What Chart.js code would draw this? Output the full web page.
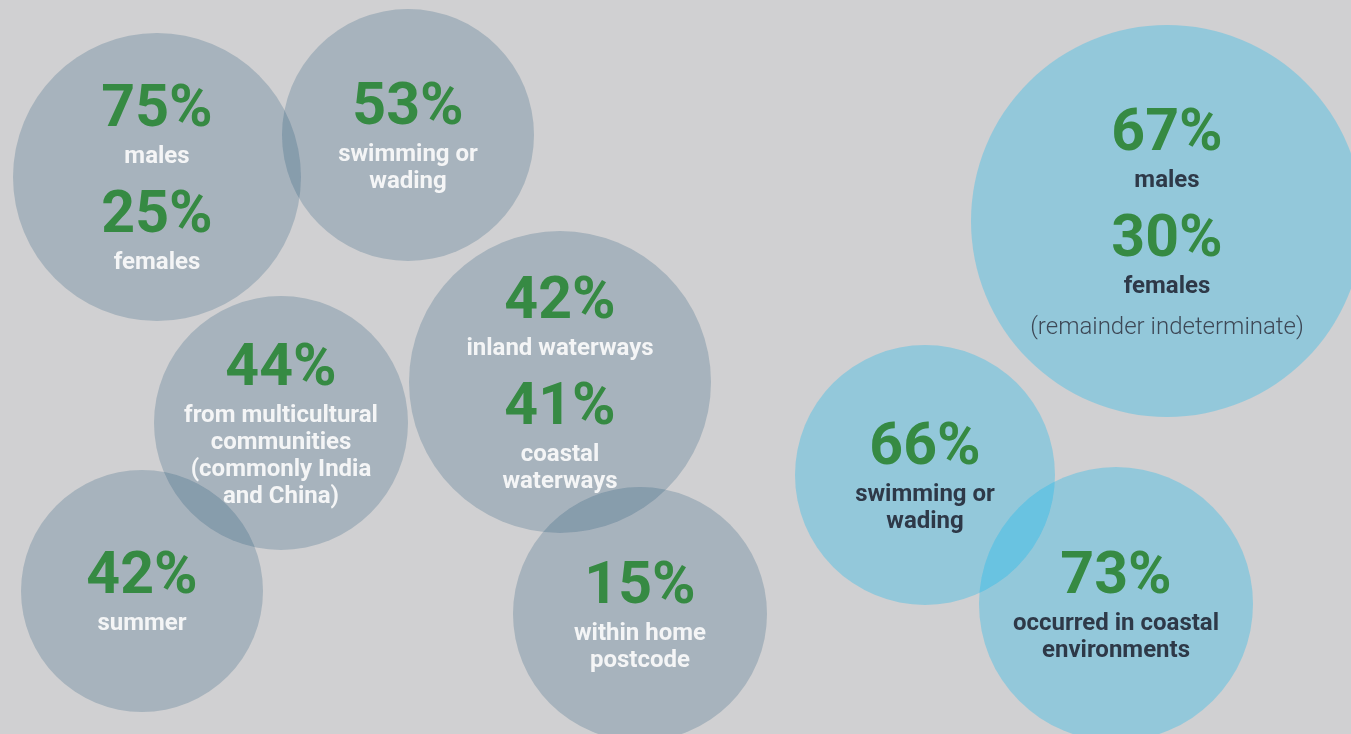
<!DOCTYPE html>
<html>
<head>
<meta charset="utf-8">
<script src="https://cdn.jsdelivr.net/npm/chart.js@4.4.1/dist/chart.umd.min.js"></script>
<style>
  html, body { margin: 0; padding: 0; background: #d0d0d2; overflow: hidden; }
  canvas { display: block; }
</style>
</head>
<body>
<canvas id="chart" width="1351" height="734"></canvas>
<script>
// Bubble centres (hidden-axis units) and radii (px)
const bubbleX = [157, 408, 281, 560, 142, 640, 1167, 925, 1116];
const bubbleY = [177, 135, 423, 382, 591, 614, 221, 475, 604];
const bubbleR = [144, 126, 127, 151, 121, 127, 196, 130, 137];
// 0 = grey cluster, 1 = blue cluster
const bubbleGroup = [0, 0, 0, 0, 0, 0, 1, 1, 1];

// Headline percentages per bubble and the caption under each one
const figures = [[75, 25], [53], [44], [42, 41], [42], [15], [67, 30], [66], [73]];
const captions = [
  [['males'], ['females']],
  [['swimming or', 'wading']],
  [['from multicultural', 'communities', '(commonly India', 'and China)']],
  [['inland waterways'], ['coastal', 'waterways']],
  [['summer']],
  [['within home', 'postcode']],
  [['males'], ['females']],
  [['swimming or', 'wading']],
  [['occurred in coastal', 'environments']]
];
const notes = ['', '', '', '', '', '', '(remainder indeterminate)', '', ''];

const groupFill = ['rgba(3, 63, 105, 0.2)', 'rgba(5, 181, 240, 0.3)'];
const groupCaptionColor = ['#f4f5f6', '#2e3948'];
const FIGURE_COLOR = '#368a43';
const NOTE_COLOR = '#3d4856';

const FIG_FONT = 'bold 59px Roboto';
const CAP_FONT = 'bold 24px Roboto';
const NOTE_FONT = '300 24px Roboto';
const FIG_SLOT = 66, CAP_SLOT = 27, GROUP_GAP = 13, NOTE_GAP = 14, SHIFT = 0, FIG_NUDGE = 1;

function pointsFor(group) {
  const pts = [];
  bubbleX.forEach((x, i) => {
    if (bubbleGroup[i] === group) pts.push({ x: x, y: bubbleY[i], r: bubbleR[i], idx: i });
  });
  return pts;
}

// Lays out each bubble's figures and captions as a vertically centred block
const bubbleText = {
  id: 'bubbleText',
  afterDatasetsDraw(chart) {
    const ctx = chart.ctx;
    ctx.save();
    ctx.textAlign = 'center';
    ctx.textBaseline = 'middle';
    chart.data.datasets.forEach((ds, d) => {
      const meta = chart.getDatasetMeta(d);
      meta.data.forEach((el, k) => {
        const i = ds.data[k].idx;
        const rows = [];
        figures[i].forEach((f, g) => {
          if (g > 0) rows.push({ gap: GROUP_GAP });
          rows.push({ text: f + '%', font: FIG_FONT, color: FIGURE_COLOR, h: FIG_SLOT, nudge: FIG_NUDGE });
          captions[i][g].forEach(t => rows.push({ text: t, font: CAP_FONT, color: groupCaptionColor[bubbleGroup[i]], h: CAP_SLOT, nudge: 0 }));
        });
        if (notes[i]) {
          rows.push({ gap: NOTE_GAP });
          rows.push({ text: notes[i], font: NOTE_FONT, color: NOTE_COLOR, h: CAP_SLOT, nudge: 0 });
        }
        const total = rows.reduce((s, r) => s + (r.gap || r.h), 0);
        let y = el.y - total / 2 + SHIFT;
        rows.forEach(r => {
          if (r.gap) { y += r.gap; return; }
          ctx.font = r.font;
          ctx.fillStyle = r.color;
          ctx.fillText(r.text, el.x, y + r.h / 2 + r.nudge);
          y += r.h;
        });
      });
    });
    ctx.restore();
  }
};

new Chart(document.getElementById('chart'), {
  type: 'bubble',
  data: {
    datasets: [0, 1].map(g => ({
      data: pointsFor(g),
      backgroundColor: groupFill[g],
      borderWidth: 0,
      hoverRadius: 0,
      hoverBorderWidth: 0,
      clip: false
    }))
  },
  options: {
    responsive: false,
    animation: false,
    events: [],
    devicePixelRatio: 1,
    layout: { padding: 0, autoPadding: false },
    plugins: { legend: { display: false }, tooltip: { enabled: false } },
    scales: {
      x: { type: 'linear', min: 0, max: 1351, display: false },
      y: { type: 'linear', min: 0, max: 734, reverse: true, display: false }
    }
  },
  plugins: [bubbleText]
});
</script>
</body>
</html>
